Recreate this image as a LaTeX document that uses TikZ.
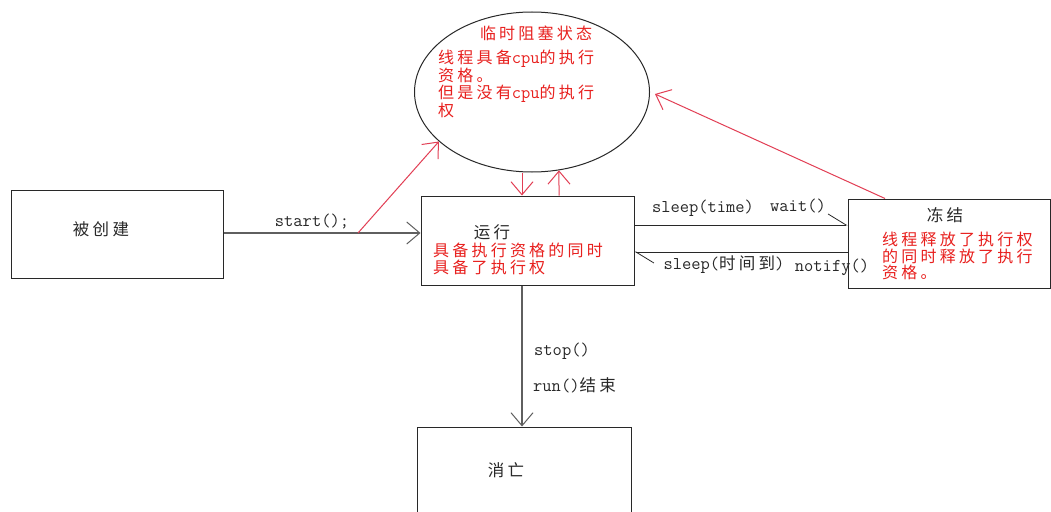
\documentclass[tikz,border=0pt]{standalone}
\usepackage{fontspec}
\usetikzlibrary{arrows.meta,shapes.geometric}
\setmainfont{Liberation Serif}
\newfontfamily\cjk[LetterSpace=20]{Noto Sans CJK SC}
\newcommand\zhlab[1]{{\cjk\fontsize{16.5}{18}\selectfont #1}}
\newcommand\lat[1]{{\ttfamily\fontsize{18}{17.5}\selectfont #1}}
\definecolor{txtred}{RGB}{232,32,30}
\definecolor{linered}{RGB}{226,62,84}
\definecolor{linegray}{RGB}{95,95,95}
\definecolor{boxblack}{RGB}{40,40,40}
\begin{document}
\begin{tikzpicture}[x=1pt,y=-1pt,
  box/.style={draw=boxblack,line width=1pt,inner sep=0pt,fill=none},
  blab/.style={inner sep=0pt,text=boxblack,font=\cjk\fontsize{16.5}{18}\selectfont},
  rtxt/.style={inner sep=0pt,text=txtred,align=left,anchor=north west},
  mlab/.style={inner sep=0pt,text=boxblack,font=\ttfamily\fontsize{18}{20}\selectfont},
  garrow/.style={draw=linegray,line width=1.2pt,-{Straight Barb[length=13pt,width=22pt,line width=1pt]}},
  rarrow/.style={draw=linered,line width=1pt,-{Straight Barb[length=13pt,width=22pt,line width=1pt]}},
  hline/.style={draw=boxblack,line width=1pt,-{Straight Barb[harpoon,length=18pt,width=22pt,line width=0.8pt]}}
]
\useasboundingbox (0,0) rectangle (1051,511);
\fill[white] (0,0) rectangle (1051,511);
\clip (0,0) rectangle (1051,511);

% boxes
\node[box,minimum width=212pt,minimum height=88pt] (created) at (117,234) {};
\node[box,minimum width=213pt,minimum height=89pt] (run) at (527.5,240.5) {};
\node[box,minimum width=202pt,minimum height=89pt] (freeze) at (949,243.5) {};
\node[box,minimum width=214pt,minimum height=130pt] (dead) at (524,492) {};
\node[draw=boxblack,line width=1pt,ellipse,inner sep=0pt,minimum width=235pt,minimum height=160pt] (blk) at (532,92) {};

% black titles
\node[blab] (createdT) at (101,229) {被创建};
\node[blab] (runT) at (492,232) {运行};
\node[blab] (freezeT) at (945,215) {冻结};
\node[blab] (deadT) at (506,470) {消亡};

% red texts
\node[inner sep=0pt,text=txtred,font=\cjk\fontsize{16}{18}\selectfont] (blkT) at (536,33) {临时阻塞状态};
\node[rtxt,font=\cjk\fontsize{16}{17.5}\selectfont] (blkD) at (438,50) {线程具备\lat{cpu}的执行\\资格。\\但是没有\lat{cpu}的执行\\权};
\node[rtxt,font=\cjk\fontsize{16}{16.5}\selectfont] (runD) at (433,243) {具备执行资格的同时\\具备了执行权};
\node[rtxt,font=\cjk\fontsize{16}{16.5}\selectfont] (freezeD) at (882,232) {线程释放了执行权\\的同时释放了执行\\资格。};

% connectors
\draw[garrow] (created.east |- 0,233) -- (run.west |- 0,233);
\coordinate (sp) at (358,233);
\draw[rarrow] (sp) -- (blk.208);
\draw[rarrow] (blk.south -| 522,0) -- (run.north -| 522,0);
\draw[rarrow] (run.north -| 559,0) -- (blk.289);
\draw[rarrow] (freeze.north -| 885,0) -- ([xshift=5pt,yshift=-2pt]blk.east);
\draw[garrow] (run.south -| 522,0) -- (dead.north -| 522,0);
\draw[hline] (run.east |- 0,225) -- (freeze.west |- 0,225);
\draw[hline] (freeze.west |- 0,252) -- (run.east |- 0,252);

% labels
\node[mlab] (startL) at (312,222) {start();};
\node[mlab] (sleepL) at (703,208) {sleep(time)};
\node[mlab] (waitL) at (798,206) {wait()};
\node[mlab] (sleep2L) at (724,265) {sleep(\zhlab{时间到})};
\node[mlab] (notifyL) at (832,267) {notify()};
\node[mlab] (stopL) at (562,351) {stop()};
\node[mlab,anchor=west] (runendL) at (533,385) {run()\zhlab{结束}};
\end{tikzpicture}
\end{document}
